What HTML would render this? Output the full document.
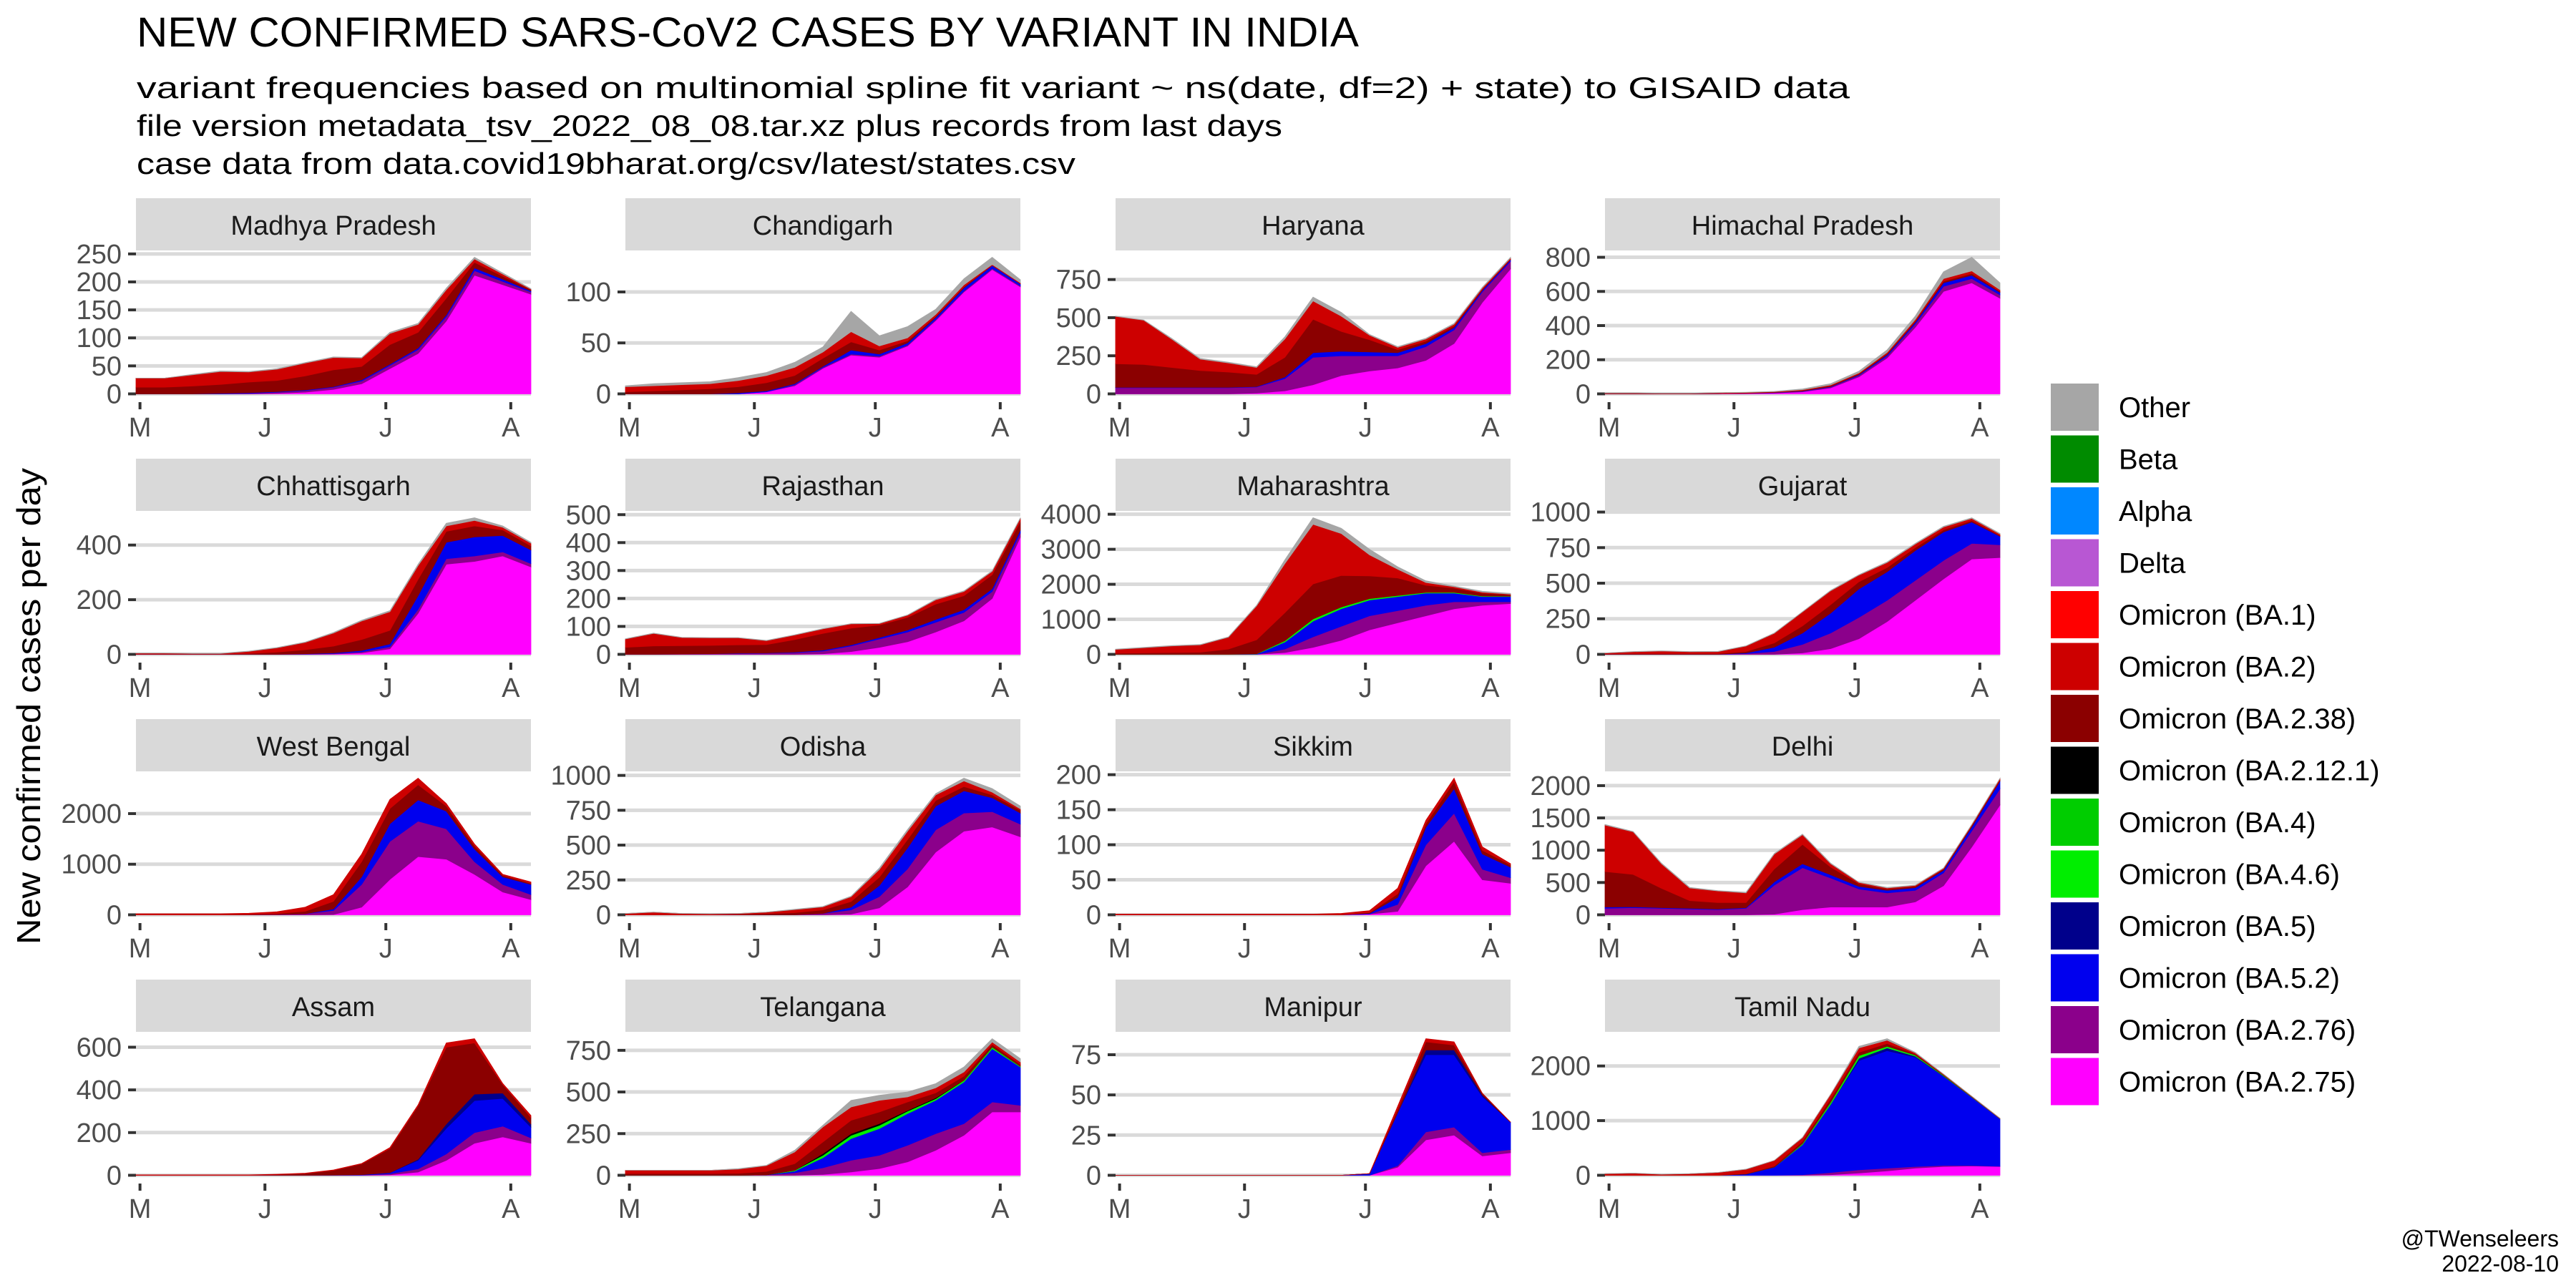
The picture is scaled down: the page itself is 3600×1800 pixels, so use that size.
<!DOCTYPE html>
<html><head><meta charset="utf-8"><style>
html,body{margin:0;padding:0;background:#fff;}
svg{display:block;font-family:"Liberation Sans",Arial,sans-serif;}
</style></head><body>
<svg id="chart" width="3600" height="1800" viewBox="0 0 3600 1800" xmlns="http://www.w3.org/2000/svg">
<rect x="0" y="0" width="3600" height="1800" fill="#fff"/>
<text x="191" y="65" font-size="58" fill="#000" textLength="1708" lengthAdjust="spacingAndGlyphs">NEW CONFIRMED SARS-CoV2 CASES BY VARIANT IN INDIA</text>
<text x="191" y="137" font-size="42" fill="#000" textLength="2394" lengthAdjust="spacingAndGlyphs">variant frequencies based on multinomial spline fit variant ~ ns(date, df=2) + state) to GISAID data</text>
<text x="191" y="190" font-size="42" fill="#000" textLength="1601" lengthAdjust="spacingAndGlyphs">file version metadata_tsv_2022_08_08.tar.xz plus records from last days</text>
<text x="191" y="243" font-size="42" fill="#000" textLength="1312" lengthAdjust="spacingAndGlyphs">case data from data.covid19bharat.org/csv/latest/states.csv</text>
<text transform="translate(56,987) rotate(-90)" text-anchor="middle" font-size="46" fill="#000" textLength="666" lengthAdjust="spacingAndGlyphs">New confirmed cases per day</text>
<g id="panels"></g>
<g id="legend"></g>
<text x="3576" y="1742" text-anchor="end" font-size="32" fill="#000">@TWenseleers</text>
<text x="3576" y="1777" text-anchor="end" font-size="32" fill="#000">2022-08-10</text>
</svg>
<script>
// sample days (0 = 1 May 2022)
const days = [-1,6,13,20,27,34,41,48,55,62,69,76,83,90,97];
const monthTickDays = [0,31,61,92];
const monthTickLabels = ["M","J","J","A"];
const panelNames = ["Madhya Pradesh","Chandigarh","Haryana","Himachal Pradesh","Chhattisgarh","Rajasthan","Maharashtra","Gujarat","West Bengal","Odisha","Sikkim","Delhi","Assam","Telangana","Manipur","Tamil Nadu"];
// stack order bottom->top: BA.2.75, BA.2.76, BA.5.2, BA.5, BA.4/BA.4.6, BA.2.12.1, BA.2.38, BA.2, Other
const stackSeries = ["Omicron (BA.2.75)","Omicron (BA.2.76)","Omicron (BA.5.2)","Omicron (BA.5)","Omicron (BA.4.6)","Omicron (BA.2.12.1)","Omicron (BA.2.38)","Omicron (BA.2)","Other"];
const legendLabels = ["Other","Beta","Alpha","Delta","Omicron (BA.1)","Omicron (BA.2)","Omicron (BA.2.38)","Omicron (BA.2.12.1)","Omicron (BA.4)","Omicron (BA.4.6)","Omicron (BA.5)","Omicron (BA.5.2)","Omicron (BA.2.76)","Omicron (BA.2.75)"];
const Z = [0,0,0,0,0,0,0,0,0,0,0,0,0,0,0];

const vMadhyaPradesh = [
 [0,0,0,0,0,1,3,8,18,45,72,130,212,195,178],
 [0,0,0,0,1,2,3,4,5,6,7,8,8,6,4],
 [0,0,0,1,1,1,1,1,2,2,3,3,5,4,2],
 Z, Z, Z,
 [12,12,14,16,19,20,25,30,24,35,28,30,10,5,2],
 [16,16,20,23,18,20,23,22,15,20,14,15,6,4,1],
 [0,0,1,1,1,1,1,1,1,2,2,3,3,2,1]];
const vChandigarh = [
 [0,0,0,0,0,2,8,25,38,36,47,72,100,122,105],
 [0,0,0,0,0,0,1,1,1,1,1,1,1,1,1],
 [0,0,0,0,1,1,1,1,4,2,2,2,3,3,2],
 Z, Z, Z,
 [2,3,4,5,6,8,8,8,8,4,2,1,1,0,0],
 [5,5,5,5,6,7,8,6,10,4,3,2,2,1,1],
 [1,2,2,2,3,3,5,5,20,10,11,5,6,7,3]];
const vHaryana = [
 [0,0,0,0,0,5,20,60,120,150,170,220,330,600,820],
 [40,40,40,40,40,40,80,180,130,100,80,90,90,70,50],
 [3,3,3,3,3,3,10,30,30,25,20,20,15,10,10],
 Z, Z, Z,
 [155,150,130,110,100,80,130,220,130,80,20,15,10,5,3],
 [310,290,185,75,60,45,120,120,100,30,15,15,12,10,8],
 [2,2,5,5,5,5,15,25,25,5,5,5,5,5,5]];
const vHimachalPradesh = [
 [0,0,0,0,1,2,5,12,35,100,210,390,600,650,560],
 [0,0,0,0,0,1,2,3,5,8,12,20,30,25,20],
 [0,0,0,0,0,0,1,2,3,5,8,10,20,20,15],
 Z, Z, Z,
 [2,2,1,1,2,2,2,3,4,4,5,6,10,10,5],
 [3,3,2,2,3,3,3,4,5,6,8,10,15,15,10],
 [1,1,1,1,1,2,2,5,8,10,15,20,40,80,40]];
const vChhattisgarh = [
 [0,0,0,0,0,0,0,1,5,20,150,330,340,360,320],
 [0,0,0,0,0,0,1,2,4,8,15,20,20,15,12],
 [0,0,0,0,0,0,1,2,5,10,50,60,70,60,50],
 Z, Z, Z,
 [1,1,1,1,3,8,15,25,40,50,60,40,40,20,15],
 [3,3,2,2,8,16,27,48,68,68,50,20,20,10,10],
 [1,1,1,1,1,1,1,2,3,4,5,10,10,5,3]];
const vRajasthan = [
 [0,0,0,0,0,0,0,2,10,25,45,80,120,200,420],
 [0,0,1,2,3,4,6,10,20,30,35,35,30,25,15],
 [0,0,0,0,1,1,2,3,4,5,7,10,10,10,10],
 Z, Z, Z,
 [25,30,30,30,30,30,45,60,60,45,45,55,50,50,30],
 [30,45,29,27,25,14,16,16,15,5,8,15,15,12,12],
 [1,1,1,1,1,1,1,1,1,1,1,2,2,2,2]];
const vMaharashtra = [
 [0,0,0,0,0,0,50,200,400,700,900,1100,1300,1400,1450],
 [0,0,0,0,0,0,100,300,400,400,350,300,200,100,50],
 [0,0,0,0,0,10,200,450,500,450,400,350,250,150,150],
 Z,
 [0,0,0,0,0,5,40,60,50,40,30,20,20,15,10],
 Z,
 [30,40,50,60,150,400,800,1000,900,650,500,200,120,80,40],
 [110,150,190,210,340,970,1400,1700,1200,600,250,80,40,30,20],
 [10,10,10,10,10,15,110,190,150,160,70,50,20,25,20]];
const vGujarat = [
 [0,0,0,0,0,0,0,10,40,110,230,380,530,670,680],
 [0,0,0,0,0,5,20,60,110,150,150,140,130,110,90],
 [0,0,0,0,0,5,30,80,140,200,200,210,200,150,60],
 Z, Z, Z,
 [3,5,5,5,5,10,30,50,60,50,30,20,15,10,5],
 [6,13,18,13,14,38,68,98,97,47,35,25,20,15,10],
 [1,2,2,2,2,2,2,2,3,3,5,5,5,5,5]];
const vWestBengal = [
 [0,0,0,0,0,0,0,5,150,700,1150,1100,800,450,300],
 [0,0,0,0,0,5,20,80,450,750,700,600,250,150,100],
 [0,0,0,0,0,0,0,30,150,350,420,350,250,150,200],
 Z, Z, Z,
 [0,0,0,0,5,20,50,150,300,300,300,100,60,30,20],
 [20,20,20,20,25,35,80,135,150,180,130,50,40,20,30],
 Z];
const vOdisha = [
 [0,0,0,0,0,0,0,0,5,50,200,450,600,630,560],
 [0,0,0,0,0,0,0,10,30,80,130,160,130,110,90],
 [0,0,0,0,0,0,0,0,20,80,150,170,160,100,80],
 Z, Z, Z,
 [0,0,0,0,3,8,15,25,40,60,60,40,30,20,20],
 [9,19,9,7,6,11,22,22,35,55,60,40,40,20,10],
 [1,1,1,1,1,1,3,3,4,11,12,10,20,26,20]];
const vSikkim = [
 [0,0,0,0,0,0,0,0,0,1,5,70,105,50,45],
 [0,0,0,0,0,0,0,0,0,0,10,30,40,15,8],
 [0,0,0,0,0,0,0,0,0,1,10,25,35,22,15],
 Z, Z, Z,
 [0,0,0,0,0,0,0,0,0,1,5,5,10,5,3],
 [1,1,1,1,1,1,1,1,2,3,8,5,5,5,2],
 Z];
const vDelhi = [
 [0,0,0,0,0,0,10,80,120,120,120,200,450,1050,1700],
 [100,110,100,90,80,100,450,650,450,280,220,180,200,250,250],
 [20,15,10,10,10,10,50,60,50,40,40,40,40,60,120],
 Z, Z, Z,
 [550,500,300,120,100,80,200,300,120,40,20,20,15,20,20],
 [720,660,380,195,180,150,230,150,50,20,15,15,15,15,20],
 [10,5,10,10,5,10,10,10,10,5,10,5,5,5,5]];
const vAssam = [
 [0,0,0,0,0,0,0,0,0,2,15,70,150,180,150],
 [0,0,0,0,0,0,0,0,1,5,15,30,50,50,25],
 [0,0,0,0,0,0,0,1,2,5,40,120,150,130,50],
 [0,0,0,0,0,0,0,0,0,0,5,20,30,25,15],
 Z, Z,
 [0,0,0,0,0,3,8,22,50,113,250,360,240,40,30],
 [2,2,2,2,2,2,2,2,2,5,5,20,20,5,10],
 Z];
const vTelangana = [
 [0,0,0,0,0,0,0,5,20,40,80,150,240,380,380],
 [0,0,0,0,0,3,15,40,70,80,100,100,70,60,40],
 [0,0,0,0,0,0,10,60,130,160,190,200,250,320,230],
 Z,
 [0,0,0,0,0,0,5,15,20,20,15,10,10,10,5],
 [0,0,0,0,0,0,0,10,10,10,5,5,0,0,0],
 [10,10,10,10,12,20,40,70,80,70,50,30,25,15,10],
 [20,20,20,20,25,35,70,90,80,70,30,30,25,15,15],
 [0,0,0,0,3,2,10,10,40,30,30,25,30,20,20]];
const vManipur = [
 [0,0,0,0,0,0,0,0,0,0,5,22,25,12,14],
 [0,0,0,0,0,0,0,0,0,0,1,5,5,2,2],
 [0,0,0,0,0,0,0,0,0,1,33,48,45,35,17],
 [0,0,0,0,0,0,0,0,0,0,0,3,3,1,0],
 Z, Z,
 [0,0,0,0,0,0,0,0,0,0,2,5,3,1,0],
 [0,0,0,0,0,0,0,0,0,0,2,2,2,0,0],
 Z];
const vTamilNadu = [
 [0,0,0,0,0,0,0,0,10,40,80,130,160,170,160],
 [0,0,0,0,0,0,0,10,40,60,50,30,20,10,5],
 [0,0,0,0,0,20,150,550,1250,2000,2150,2000,1630,1250,870],
 [0,0,0,0,0,0,0,0,0,40,50,20,10,0,0],
 [0,0,0,0,0,0,0,20,40,50,30,20,10,5,3],
 Z,
 [0,0,0,0,0,10,20,40,60,60,50,20,10,5,0],
 [28,38,18,28,50,80,100,70,80,80,60,20,10,5,5],
 [2,2,2,2,2,2,2,2,2,30,30,10,2,2,2]];

const panelValues = [vMadhyaPradesh,vChandigarh,vHaryana,vHimachalPradesh,vChhattisgarh,vRajasthan,vMaharashtra,vGujarat,vWestBengal,vOdisha,vSikkim,vDelhi,vAssam,vTelangana,vManipur,vTamilNadu];
const yTicks = [
 [0,50,100,150,200,250],[0,50,100],[0,250,500,750],[0,200,400,600,800],
 [0,200,400],[0,100,200,300,400,500],[0,1000,2000,3000,4000],[0,250,500,750,1000],
 [0,1000,2000],[0,250,500,750,1000],[0,50,100,150,200],[0,500,1000,1500,2000],
 [0,200,400,600],[0,250,500,750],[0,25,50,75],[0,1000,2000]];

// styling (not data)
const seriesColors = ["#ff00ff","#8b008b","#0000ee","#00008b","#00ee00","#000000","#8b0000","#cd0000","#a6a6a6"];
const legendColors = ["#a6a6a6","#008b00","#0087ff","#b857d3","#ff0000","#cd0000","#8b0000","#000000","#00cd00","#00ee00","#00008b","#0000ee","#8b008b","#ff00ff"];
const NS = "http://www.w3.org/2000/svg";
const colX = [190,874,1559,2243], PW = 552;
const rowTop = 277, rowStep = 364, stripH = 73, plotH = 210;
const xDomain = [-1,97];

function mk(tag, attrs, parent){ const e=document.createElementNS(NS,tag); for(const k in attrs) e.setAttribute(k,attrs[k]); parent.appendChild(e); return e; }

const panelsG = document.getElementById('panels');
panelNames.forEach((name, pi) => {
  const col = pi % 4, row = Math.floor(pi / 4);
  const x0 = colX[col], sTop = rowTop + row*rowStep, pTop = sTop + stripH, pBot = pTop + plotH;
  const vals = panelValues[pi];
  const totals = days.map((d,i)=>vals.reduce((s,ser)=>s+ser[i],0));
  const M = Math.max(...totals);
  const yMin = -0.05*M, yMax = 1.05*M;
  const xs = d => x0 + (d - xDomain[0])/(xDomain[1]-xDomain[0])*PW;
  const ys = v => pBot - (v - yMin)/(yMax - yMin)*plotH;
  const g = mk('g',{},panelsG);
  
  
  const strip = mk('rect',{x:x0,y:sTop,width:PW,height:stripH,fill:'#d9d9d9'},g);
  
  
  const st = mk('text',{x:x0+PW/2,y:sTop+51,'text-anchor':'middle','font-size':38,fill:'#1a1a1a'},g);
  st.textContent = name;
  
  
  yTicks[pi].forEach(t => {
    if (t > yMax) return;
    const y = ys(t);
    const gl = mk('line',{x1:x0,x2:x0+PW,y1:y,y2:y,stroke:'#dadada','stroke-width':5},g);
    
    
    const tk = mk('line',{x1:x0-11,x2:x0,y1:y,y2:y,stroke:'#333','stroke-width':4},g);
    
    
    const tl = mk('text',{x:x0-20,y:y+13,'text-anchor':'end','font-size':38,fill:'#4d4d4d'},g);
    tl.textContent = t;
    
    
  });
  const cum = days.map(()=>0);
  vals.forEach((ser, si) => {
    if (ser.every(v=>v===0)) return;
    const lower = cum.slice();
    ser.forEach((v,i)=>cum[i]+=v);
    let d = days.map((dd,i)=>(i?'L':'M')+xs(dd).toFixed(1)+','+ys(cum[i]).toFixed(1)).join('');
    for (let i=days.length-1;i>=0;i--) d += 'L'+xs(days[i]).toFixed(1)+','+ys(lower[i]).toFixed(1);
    const p = mk('path',{d:d+'Z',fill:seriesColors[si],stroke:seriesColors[si],'stroke-width':0.8},g);
    
    
  });
  monthTickDays.forEach((td, ti) => {
    const x = xs(td);
    const tk = mk('line',{x1:x,x2:x,y1:pBot+2,y2:pBot+12,stroke:'#333','stroke-width':4},g);
    
    
    const tl = mk('text',{x:x,y:pBot+50,'text-anchor':'middle','font-size':38,fill:'#4d4d4d'},g);
    tl.textContent = monthTickLabels[ti];
    
    
  });
});

const legG = document.getElementById('legend');
legendLabels.forEach((lab, i) => {
  const y = 536 + i*72.5;
  const r = mk('rect',{x:2866,y:y,width:67,height:66,fill:legendColors[i]},legG);
  
  
  const t = mk('text',{x:2961,y:y+47,'font-size':40,fill:'#000'},legG);
  t.textContent = lab;
  
  
});
</script>
</body></html>
